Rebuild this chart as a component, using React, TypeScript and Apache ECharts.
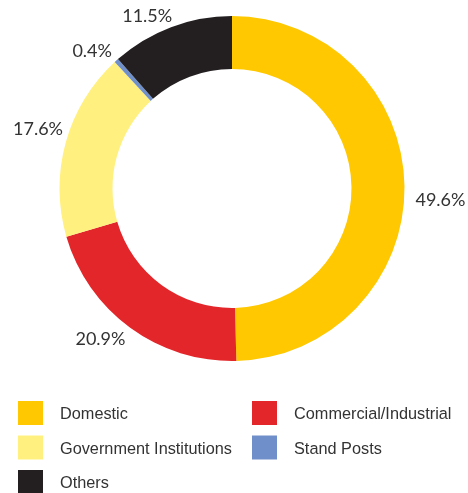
import React, { useEffect, useRef } from "react";
import * as echarts from "echarts";

const categories = ["Domestic", "Commercial/Industrial", "Government Institutions", "Stand Posts", "Others"];
const shares = [49.6, 20.9, 17.6, 0.4, 11.5];
const colors = ["#FFC800", "#E3262A", "#FFF07F", "#6E8FC9", "#231F20"];
const leftLegend = ["Domestic", "Government Institutions", "Others"];
const rightLegend = ["Commercial/Industrial", "Stand Posts"];
// small per-label nudges of the outside labels
const labelNudge = [
  [-2, 13],
  [5, 4],
  [10, -12],
  [6, -5],
  [9, -5],
];

export default function App() {
  const ref = useRef<HTMLDivElement>(null);
  useEffect(() => {
    if (!ref.current) return;
    const chart = echarts.init(ref.current, undefined, { renderer: "svg" });
    const legendBase = {
      orient: "vertical" as const,
      icon: "rect",
      itemWidth: 25,
      itemHeight: 24,
      itemGap: 10.5,
      padding: 0,
      height: 120,
      selectedMode: false,
      textStyle: { fontFamily: "Liberation Sans, Arial, sans-serif", fontSize: 16.3, color: "#333", padding: [0, 0, 0, 12] },
    };
    chart.setOption({
      animation: false,
      color: colors,
      legend: [
        { ...legendBase, left: 18, top: 401, data: leftLegend },
        { ...legendBase, left: 252, top: 401, data: rightLegend },
      ],
      series: [
        {
          type: "pie",
          center: [232, 188.5],
          radius: [119.5, 172.5],
          startAngle: 90,
          clockwise: true,
          avoidLabelOverlap: false,
          label: {
            show: true,
            position: "outside",
            formatter: (p: any) => `${p.value.toFixed(1)}%`,
            fontFamily: "Lato, sans-serif",
            fontSize: 18,
            color: "#333",
          },
          labelLine: { show: false, length: 8, length2: 0 },
          labelLayout: (p: any) => {
            const n = labelNudge[p.dataIndex] || [0, 0];
            return { dx: n[0], dy: n[1] };
          },
          emphasis: { disabled: true },
          data: categories.map((name, i) => ({ name, value: shares[i] })),
        },
      ],
    });
    return () => chart.dispose();
  }, []);
  return <div ref={ref} style={{ position: "fixed", left: 0, top: 0, width: 468, height: 493 }} />;
}
